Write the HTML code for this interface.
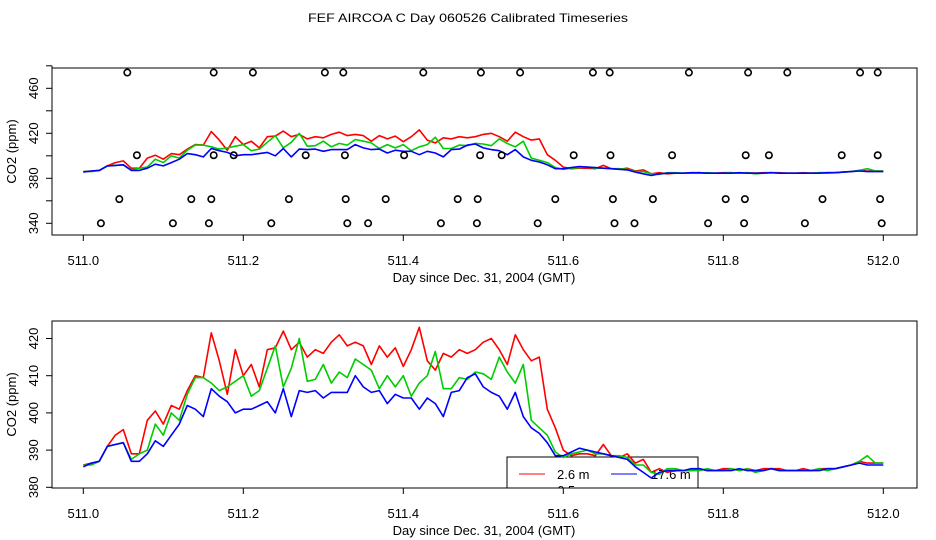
<!DOCTYPE html>
<html><head><meta charset="utf-8"><style>
html,body{margin:0;padding:0;background:#fff;}
svg{display:block;font-family:"Liberation Sans",sans-serif;}
</style></head><body>
<svg id="chart" width="936" height="540" viewBox="0 0 936 540" xmlns="http://www.w3.org/2000/svg">
<rect x="0" y="0" width="936" height="540" fill="#fff"/>
<text x="468" y="22" text-anchor="middle" font-size="12" textLength="320" lengthAdjust="spacingAndGlyphs">FEF AIRCOA C  Day 060526  Calibrated Timeseries</text>
<defs>
<clipPath id="clipTop"><rect x="52" y="68" width="865" height="167"/></clipPath>
<clipPath id="clipBot"><rect x="52" y="321" width="865" height="167"/></clipPath>
</defs>
<g id="top"></g>
<g id="bot"></g>
</svg>
<script>
const days = [];
for (let i = 0; i <= 100; i++) days.push(511 + i / 100);
const red = [386,386.5,387,391,394,395.5,389,389,398,400.5,
397,402,401,406,410,409.5,421.5,414,405,417,
410,413,407,417,417.5,422,417,419,415,417,
416,419,421,418,419,418,413,418,415,417.5,
412.5,417,423,414,411.5,416,415,417,416,417,
419,420,417,413,421,417,414,415,401,396,
390,388.5,389,389,388.5,391.5,388.5,388,389,386.5,
387.5,384,385,384,384.5,384.5,384.5,385,384.5,384.5,
385,385,384.5,385,384.5,385,385,385,384.5,384.5,
385,384.5,385,385,385,385.5,386,387,386.5,386.5,386.5];
const green = [386,386,387,391,391.5,392,387.5,389,390,397,
394,400,398,405,409.5,409.5,408,406,407,408.5,
410,404.5,406,412,418,407,412,420,408.5,409,
413,408,411,409.5,414.5,413,411.5,406.5,410,407,
410,404.5,408,410,416.5,406.5,406.5,409.5,409,411,
410.5,409,415,411,408,413,398,396,394,389.5,
388,389,389.5,390,389,389,388.5,388.5,388,386,
386,384,383.5,385,385,384.5,384.5,384.5,385,384.5,
384.5,385,384.5,385,384,384.5,385,384.5,384.5,384.5,
384.5,384.5,385,384.5,385,385.5,386,387,388.5,386.5,386.5];
const blue = [385.5,386.5,387,391,391.5,392,387,387,389,392.5,
391,394,397,402,401,399,406.5,404.5,403,400,
401,401,402,403,400,406.5,399,406,405.5,406,
404,405.5,405.5,405.5,410,407,405.5,406,402.5,405,
404,404,401,404,402.5,399,405.5,406,409.5,410.5,
407,405.5,404.5,401,405.5,399,396,394.5,392,388.5,
388.5,389.5,390.5,390,389.5,389,388.5,388,387.5,385.5,
384,382.5,384,384.5,384.5,384.5,385,385,384.5,384.5,
384.5,384.5,385,384.5,384.5,384.5,385,384.5,384.5,384.5,
384.5,384.5,384.5,385,385,385.5,386,386.5,386,386,386];
const circleDaysA = [511.055,511.163,511.212,511.302,511.325,511.425,511.497,511.546,511.637,511.658,511.757,511.831,511.88,511.971,511.993];
const circleDaysB = [511.067,511.163,511.188,511.278,511.327,511.401,511.496,511.523,511.613,511.659,511.736,511.828,511.857,511.948,511.993];
const circleDaysC = [511.045,511.135,511.16,511.257,511.328,511.378,511.468,511.493,511.59,511.662,511.712,511.803,511.827,511.924,511.996];
const circleDaysD = [511.022,511.112,511.157,511.235,511.33,511.356,511.447,511.492,511.568,511.664,511.689,511.781,511.826,511.902,511.998];
const circleRowValues = [474, 400.5, 361.5, 340];
const xTicks = [511.0,511.2,511.4,511.6,511.8,512.0];
const xTickLabels = ["511.0","511.2","511.4","511.6","511.8","512.0"];
const topYTicks = [340,360,380,400,420,440,460,480];
const topYLabels = ["340","","380","","420","","460",""];
const botYTicks = [380,390,400,410,420];
const botYLabels = ["380","390","400","410","420"];

const NS = "http://www.w3.org/2000/svg";
function mk(tag, attrs, parent){const e=document.createElementNS(NS,tag);for(const k in attrs)e.setAttribute(k,attrs[k]);parent.appendChild(e);return e;}
const xScale = d => 83.3 + (d - 511) * 800;

function panel(g, box, yScale, yTicks, yLabels, clipId, withLegend, withCircles){
  const plot = mk('g', {'clip-path':'url(#'+clipId+')'}, g);
  if (withLegend){
    const lg = mk('g', {}, plot);
    
    
    mk('rect', {x:507,y:457,width:191,height:45,fill:'#fff',stroke:'#000','stroke-width':1}, lg);
    mk('line', {x1:519,y1:474,x2:545,y2:474,stroke:'#f00','stroke-width':1}, lg);
    const t1 = mk('text', {x:557,y:479,'font-size':13}, lg); t1.textContent='2.6 m';
    
    
    mk('line', {x1:611,y1:474,x2:637,y2:474,stroke:'#00f','stroke-width':1}, lg);
    const t2 = mk('text', {x:651,y:479,'font-size':13}, lg); t2.textContent='17.6 m';
    
    
    const t3 = mk('text', {x:557,y:495,'font-size':13}, lg); t3.textContent='6.5 m';
    
    
  }
  const series = [[red,'#f00','series-2-6m'],[green,'#0c0','series-6-5m'],[blue,'#00f','series-17-6m']];
  series.forEach(([vals,col,name])=>{
    const pts = vals.map((v,i)=>xScale(days[i]).toFixed(1)+','+yScale(v).toFixed(1)).join(' ');
    const pl = mk('polyline', {points:pts,fill:'none',stroke:col,'stroke-width':1.6,'stroke-linejoin':'round'}, plot);
    
    
  });
  if (withCircles){
    [circleDaysA,circleDaysB,circleDaysC,circleDaysD].forEach((arr,ri)=>{
      arr.forEach(d=>{
        const c = mk('circle', {cx:xScale(d),cy:yScale(circleRowValues[ri]),r:3.2,fill:'none',stroke:'#000','stroke-width':1.6}, g);
        
        
      });
    });
  }
  const fr = mk('rect', {x:box.x,y:box.y,width:box.w,height:box.h,fill:'none',stroke:'#000','stroke-width':1}, g);
  
  
  const by = box.y + box.h;
  const xa = mk('g', {}, g);
  
  
  mk('line', {x1:xScale(xTicks[0]),y1:by,x2:xScale(xTicks[xTicks.length-1]),y2:by,stroke:'#000'}, xa);
  xTicks.forEach((t,i)=>{
    mk('line', {x1:xScale(t),y1:by,x2:xScale(t),y2:by+6,stroke:'#000'}, xa);
    const tx = mk('text', {x:xScale(t),y:by+30,'font-size':13,'text-anchor':'middle'}, xa);
    tx.textContent = xTickLabels[i];
  });
  const xt = mk('text', {x:484,y:by+47,'font-size':13,'text-anchor':'middle'}, g);
  xt.textContent = 'Day since Dec. 31, 2004 (GMT)';
  
  
  const ya = mk('g', {}, g);
  
  
  mk('line', {x1:box.x,y1:yScale(yTicks[0]),x2:box.x,y2:yScale(yTicks[yTicks.length-1]),stroke:'#000'}, ya);
  yTicks.forEach((t,i)=>{
    const y = yScale(t);
    mk('line', {x1:box.x-6,y1:y,x2:box.x,y2:y,stroke:'#000'}, ya);
    if (yLabels[i]){
      const tx = mk('text', {x:0,y:0,'font-size':13,'text-anchor':'middle',transform:'translate(38,'+y+') rotate(-90)'}, ya);
      tx.textContent = yLabels[i];
    }
  });
  const yt = mk('text', {x:0,y:0,'font-size':13,'text-anchor':'middle',transform:'translate(16,'+(box.y+box.h/2)+') rotate(-90)'}, g);
  yt.textContent = 'CO2 (ppm)';
  
  
}
panel(document.getElementById('top'), {x:52,y:68,w:865,h:167}, v => 223.3 - (v-340)*1.125, topYTicks, topYLabels, 'clipTop', false, true);
panel(document.getElementById('bot'), {x:52,y:321,w:865,h:167}, v => 487.3 - (v-380)*3.72, botYTicks, botYLabels, 'clipBot', true, false);
</script>
</body></html>
